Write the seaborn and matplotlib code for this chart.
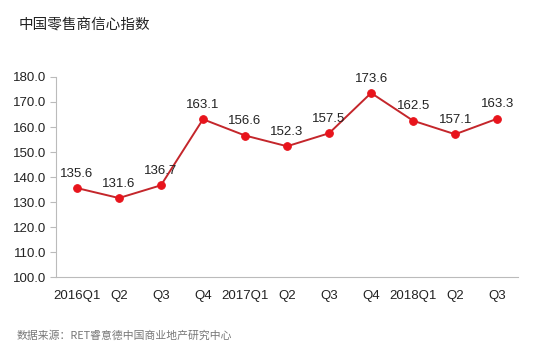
import numpy as np
import pandas as pd
import seaborn as sns
import matplotlib.pyplot as plt

# data
quarters = ["2016Q1", "Q2", "Q3", "Q4", "2017Q1", "Q2", "Q3", "Q4", "2018Q1", "Q2", "Q3"]
index_values = [135.6, 131.6, 136.7, 163.1, 156.6, 152.3, 157.5, 173.6, 162.5, 157.1, 163.3]
y_ticks = [100, 110, 120, 130, 140, 150, 160, 170, 180]

title = "中国零售商信心指数"
source = "数据来源：RET睿意德中国商业地产研究中心"

sns.set_style("white")
plt.rcParams["font.family"] = ["Liberation Sans", "Noto Sans CJK SC", "DejaVu Sans"]

df = pd.DataFrame({"pos": np.arange(len(quarters)), "value": index_values})

fig = plt.figure(figsize=(5.59, 3.58), dpi=100)
ax = fig.add_axes([0.1, 0.226, 0.827, 0.559])

sns.lineplot(data=df, x="pos", y="value", ax=ax, color="#c4262b", linewidth=1.4,
             marker="o", markersize=5.5, markerfacecolor="#e8141c",
             markeredgecolor="#e8141c")

for x, v in zip(df["pos"], df["value"]):
    ax.annotate(f"{v:.1f}", (x, v), xytext=(0, 6), textcoords="offset points",
                ha="center", va="bottom", fontsize=9.5, color="#222222")

ax.set_xlim(-0.5, len(quarters) - 0.5)
ax.set_ylim(100, 180)
ax.set_yticks(y_ticks)
ax.set_yticklabels([f"{t:.1f}" for t in y_ticks], fontsize=9.5, color="#222222")
ax.set_xticks(df["pos"])
ax.set_xticklabels(quarters, fontsize=9.5, color="#222222")
ax.set_xticks(np.arange(len(quarters) + 1) - 0.5, minor=True)
ax.tick_params(axis="x", which="major", length=0, pad=9)
ax.tick_params(axis="x", which="minor", length=4, color="#bbbbbb", width=0.8, direction="out")
ax.tick_params(axis="y", length=4, color="#bbbbbb", width=0.8, direction="out", left=True, pad=3)
ax.set_xlabel("")
ax.set_ylabel("")

sns.despine(ax=ax)
for s in ["left", "bottom"]:
    ax.spines[s].set_color("#bbbbbb")
    ax.spines[s].set_linewidth(0.8)

fig.text(0.034, 0.93, title, fontsize=10.5, color="#222222", va="center",
         family=["Noto Sans CJK SC"])
fig.text(0.03, 0.062, source, fontsize=7.8, color="#777777", va="center",
         family=["Noto Sans CJK SC", "DejaVu Sans"])

fig.savefig("out.png", dpi=100, facecolor="white")
